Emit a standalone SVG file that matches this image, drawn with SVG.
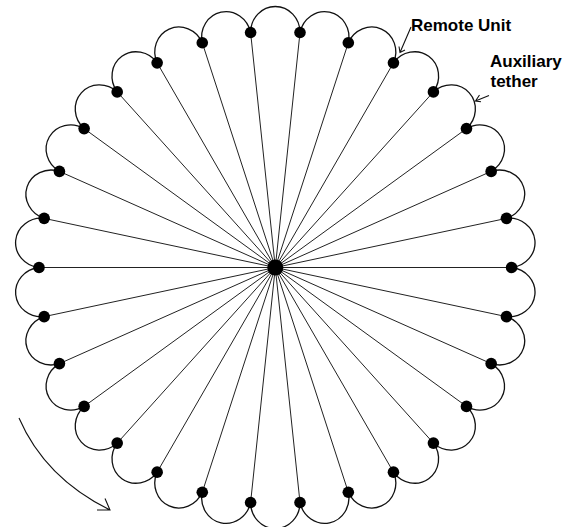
<svg xmlns="http://www.w3.org/2000/svg" xmlns:xlink="http://www.w3.org/1999/xlink" width="569" height="527" viewBox="0 0 569 527">
<style>
.spoke{fill:none;stroke:#222;stroke-width:1}
.lobe{fill:none;stroke:#111;stroke-width:1.3}
.arr{fill:none;stroke:#111;stroke-width:1.1}
.dot{fill:#000}
.lbl{font-family:"Liberation Sans",Arial,sans-serif;font-weight:bold;font-size:17px;fill:#000}
</style>
<defs>
<path id="lobe" class="lobe" d="M510.31,242.8 A26,24.7 0 0 1 536.31,267.5 A26,24.7 0 0 1 510.31,292.2"/>
<circle id="ru" class="dot" r="5.8" cx="0" cy="0"/>
</defs>
<rect width="569" height="527" fill="#fff"/>
<g id="connectors">
<path class="spoke" d="M511.6,267.5L39,267.5M506.44,218.37L44.16,316.63M491.17,171.39L59.43,363.61M466.47,128.61L84.13,406.39M433.41,91.9L117.19,443.1M393.45,62.86L157.15,472.14M348.32,42.76L202.28,492.24M300,32.49L250.6,502.51M250.6,32.49L300,502.51M202.28,42.76L348.32,492.24M157.15,62.86L393.45,472.14M117.19,91.9L433.41,443.1M84.13,128.61L466.47,406.39M59.43,171.39L491.17,363.61M44.16,218.37L506.44,316.63"/>
<g id="aux-tethers">
<use xlink:href="#lobe" href="#lobe" transform="rotate(6 275.3 267.5)"/>
<use xlink:href="#lobe" href="#lobe" transform="rotate(18 275.3 267.5)"/>
<use xlink:href="#lobe" href="#lobe" transform="rotate(30 275.3 267.5)"/>
<use xlink:href="#lobe" href="#lobe" transform="rotate(42 275.3 267.5)"/>
<use xlink:href="#lobe" href="#lobe" transform="rotate(54 275.3 267.5)"/>
<use xlink:href="#lobe" href="#lobe" transform="rotate(66 275.3 267.5)"/>
<use xlink:href="#lobe" href="#lobe" transform="rotate(78 275.3 267.5)"/>
<use xlink:href="#lobe" href="#lobe" transform="rotate(90 275.3 267.5)"/>
<use xlink:href="#lobe" href="#lobe" transform="rotate(102 275.3 267.5)"/>
<use xlink:href="#lobe" href="#lobe" transform="rotate(114 275.3 267.5)"/>
<use xlink:href="#lobe" href="#lobe" transform="rotate(126 275.3 267.5)"/>
<use xlink:href="#lobe" href="#lobe" transform="rotate(138 275.3 267.5)"/>
<use xlink:href="#lobe" href="#lobe" transform="rotate(150 275.3 267.5)"/>
<use xlink:href="#lobe" href="#lobe" transform="rotate(162 275.3 267.5)"/>
<use xlink:href="#lobe" href="#lobe" transform="rotate(174 275.3 267.5)"/>
<use xlink:href="#lobe" href="#lobe" transform="rotate(186 275.3 267.5)"/>
<use xlink:href="#lobe" href="#lobe" transform="rotate(198 275.3 267.5)"/>
<use xlink:href="#lobe" href="#lobe" transform="rotate(210 275.3 267.5)"/>
<use xlink:href="#lobe" href="#lobe" transform="rotate(222 275.3 267.5)"/>
<use xlink:href="#lobe" href="#lobe" transform="rotate(234 275.3 267.5)"/>
<use xlink:href="#lobe" href="#lobe" transform="rotate(246 275.3 267.5)"/>
<use xlink:href="#lobe" href="#lobe" transform="rotate(258 275.3 267.5)"/>
<use xlink:href="#lobe" href="#lobe" transform="rotate(270 275.3 267.5)"/>
<use xlink:href="#lobe" href="#lobe" transform="rotate(282 275.3 267.5)"/>
<use xlink:href="#lobe" href="#lobe" transform="rotate(294 275.3 267.5)"/>
<use xlink:href="#lobe" href="#lobe" transform="rotate(306 275.3 267.5)"/>
<use xlink:href="#lobe" href="#lobe" transform="rotate(318 275.3 267.5)"/>
<use xlink:href="#lobe" href="#lobe" transform="rotate(330 275.3 267.5)"/>
<use xlink:href="#lobe" href="#lobe" transform="rotate(342 275.3 267.5)"/>
<use xlink:href="#lobe" href="#lobe" transform="rotate(354 275.3 267.5)"/>
</g>
</g>
<g id="hub"><circle class="dot" cx="275.3" cy="267.5" r="8"/></g>
<g id="ru0"><use xlink:href="#ru" href="#ru" x="511.6" y="267.5"/></g>
<g id="ru1"><use xlink:href="#ru" href="#ru" x="506.44" y="218.37"/></g>
<g id="ru2"><use xlink:href="#ru" href="#ru" x="491.17" y="171.39"/></g>
<g id="ru3"><use xlink:href="#ru" href="#ru" x="466.47" y="128.61"/></g>
<g id="ru4"><use xlink:href="#ru" href="#ru" x="433.41" y="91.9"/></g>
<g id="ru5"><use xlink:href="#ru" href="#ru" x="393.45" y="62.86"/></g>
<g id="ru6"><use xlink:href="#ru" href="#ru" x="348.32" y="42.76"/></g>
<g id="ru7"><use xlink:href="#ru" href="#ru" x="300" y="32.49"/></g>
<g id="ru8"><use xlink:href="#ru" href="#ru" x="250.6" y="32.49"/></g>
<g id="ru9"><use xlink:href="#ru" href="#ru" x="202.28" y="42.76"/></g>
<g id="ru10"><use xlink:href="#ru" href="#ru" x="157.15" y="62.86"/></g>
<g id="ru11"><use xlink:href="#ru" href="#ru" x="117.19" y="91.9"/></g>
<g id="ru12"><use xlink:href="#ru" href="#ru" x="84.13" y="128.61"/></g>
<g id="ru13"><use xlink:href="#ru" href="#ru" x="59.43" y="171.39"/></g>
<g id="ru14"><use xlink:href="#ru" href="#ru" x="44.16" y="218.37"/></g>
<g id="ru15"><use xlink:href="#ru" href="#ru" x="39" y="267.5"/></g>
<g id="ru16"><use xlink:href="#ru" href="#ru" x="44.16" y="316.63"/></g>
<g id="ru17"><use xlink:href="#ru" href="#ru" x="59.43" y="363.61"/></g>
<g id="ru18"><use xlink:href="#ru" href="#ru" x="84.13" y="406.39"/></g>
<g id="ru19"><use xlink:href="#ru" href="#ru" x="117.19" y="443.1"/></g>
<g id="ru20"><use xlink:href="#ru" href="#ru" x="157.15" y="472.14"/></g>
<g id="ru21"><use xlink:href="#ru" href="#ru" x="202.28" y="492.24"/></g>
<g id="ru22"><use xlink:href="#ru" href="#ru" x="250.6" y="502.51"/></g>
<g id="ru23"><use xlink:href="#ru" href="#ru" x="300" y="502.51"/></g>
<g id="ru24"><use xlink:href="#ru" href="#ru" x="348.32" y="492.24"/></g>
<g id="ru25"><use xlink:href="#ru" href="#ru" x="393.45" y="472.14"/></g>
<g id="ru26"><use xlink:href="#ru" href="#ru" x="433.41" y="443.1"/></g>
<g id="ru27"><use xlink:href="#ru" href="#ru" x="466.47" y="406.39"/></g>
<g id="ru28"><use xlink:href="#ru" href="#ru" x="491.17" y="363.61"/></g>
<g id="ru29"><use xlink:href="#ru" href="#ru" x="506.44" y="316.63"/></g>
<g id="label-remote">
<text class="lbl" x="411" y="31">Remote Unit</text>
<path class="arr" d="M411,27L400,52.5M399,46.5L400,52.5L405,50"/>
</g>
<g id="label-aux">
<text class="lbl" x="490" y="66.7">Auxiliary</text>
<text class="lbl" x="490.5" y="86.7">tether</text>
<path class="arr" d="M489,95.5L475.5,101M479.5,95L475.5,101L481,101.7"/>
</g>
<g id="rotation-arrow">
<path class="arr" d="M19,418Q45,478 110,510M105,498.5L110,510L97,510"/>
</g>
</svg>
